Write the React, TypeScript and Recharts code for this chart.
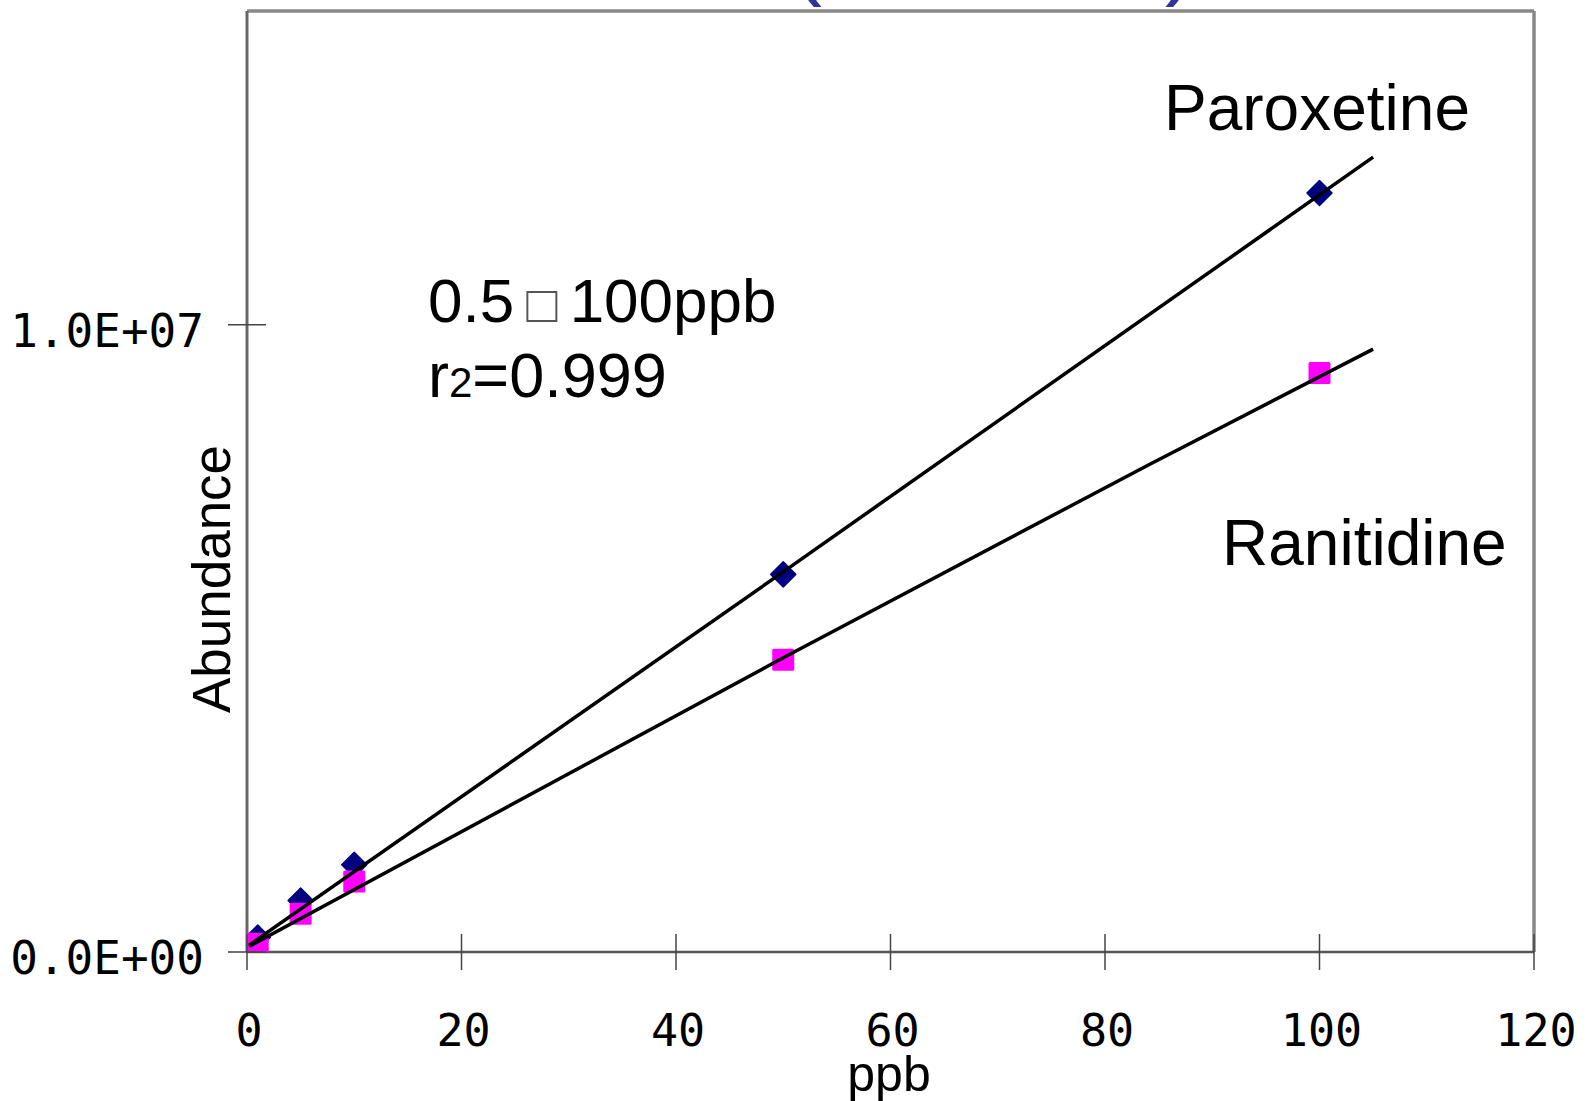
import React from 'react';
import { ComposedChart, Scatter, XAxis, YAxis, ReferenceLine, Customized } from 'recharts';

// ---- data ----
const xTicks = [0, 20, 40, 60, 80, 100, 120];
const yTicks = [0, 10000000];
const yTickLabels = ['0.0E+00', '1.0E+07'];

const concentrations = [0.5, 1, 5, 10, 50, 100];
const paroxetine = [120000, 230000, 820000, 1390000, 6020000, 12100000];
const ranitidine = [96000, 130000, 610000, 1125000, 4660000, 9230000];

const paroxetineFitX = [0.2, 50, 105];
const paroxetineFitY = [110000, 6060000, 12670000];
const ranitidineFitX = [0.2, 50, 84, 105];
const ranitidineFitY = [90000, 4690000, 7760000, 9610000];

const seriesNames = ['Paroxetine', 'Ranitidine'];
const rangeParts = ['0.5', '\u25A1', '100ppb'];
const xLabel = 'ppb';
const yLabel = 'Abundance';

const parData = concentrations.map((x, i) => ({ x, y: paroxetine[i] }));
const ranData = concentrations.map((x, i) => ({ x, y: ranitidine[i] }));
const parFit = paroxetineFitX.map((x, i) => ({ x, y: paroxetineFitY[i] }));
const ranFit = ranitidineFitX.map((x, i) => ({ x, y: ranitidineFitY[i] }));

const SANS = '"Liberation Sans", Arial, sans-serif';
const MONO = '"DejaVu Sans Mono", monospace';

const Diamond = (props: any) => {
  const { cx, cy } = props;
  const r = 12.5;
  return (
    <polygon
      points={`${cx},${cy - r} ${cx + r},${cy} ${cx},${cy + r} ${cx - r},${cy}`}
      fill="#000080"
      stroke="#000080"
      strokeWidth={1.5}
      strokeLinejoin="round"
    />
  );
};

const Square = (props: any) => {
  const { cx, cy } = props;
  const s = 22;
  return <rect x={cx - s / 2} y={cy - s / 2} width={s} height={s} rx={1.5} fill="#FF00FF" />;
};

const NoShape = () => <g />;

const YTick = (props: any) => {
  const { x, y, payload } = props;
  const idx = yTicks.indexOf(payload.value);
  return (
    <g>
      <line x1={x - 19} x2={x + 19} y1={y} y2={y} stroke="#444" strokeWidth={1.5} />
      <text x={x - 43} y={y + 22} textAnchor="end" fontFamily={MONO} fontSize={46} fill="#000">
        {yTickLabels[idx]}
      </text>
    </g>
  );
};

const XTick = (props: any) => {
  const { x, y, payload } = props;
  return (
    <g>
      <line x1={x} x2={x} y1={y - 18} y2={y + 18} stroke="#444" strokeWidth={1.5} />
      <text x={x + 2} y={y + 94} textAnchor="middle" fontFamily={MONO} fontSize={45} fill="#000">
        {String(payload.value)}
      </text>
    </g>
  );
};

const Annotations = () => (
  <g>
    <text x={807} y={-12} fontFamily={SANS} fontSize={90} fill="#333399" textAnchor="middle">(</text>
    <text x={1180} y={-12} fontFamily={SANS} fontSize={90} fill="#333399" textAnchor="middle">)</text>
    <text x={1164} y={130} fontFamily={SANS} fontSize={64} fill="#000">{seriesNames[0]}</text>
    <text x={1222} y={565} fontFamily={SANS} fontSize={64} fill="#000">{seriesNames[1]}</text>
    <text x={428} y={322} fontFamily={SANS} fontSize={62} fill="#000">
      {rangeParts[0]}
      <tspan dx={12} fontSize={52} fill="#555">{rangeParts[1]}</tspan>
      <tspan dx={12}>{rangeParts[2]}</tspan>
    </text>
    <text x={428} y={397} fontFamily={SANS} fontSize={63} fill="#000">
      r<tspan fontSize={42}>2</tspan>=0.999
    </text>
    <text x={889} y={1091} fontFamily={SANS} fontSize={50} fill="#000" textAnchor="middle">{xLabel}</text>
    <text
      x={230}
      y={579}
      fontFamily={SANS}
      fontSize={53}
      fill="#000"
      textAnchor="middle"
      transform="rotate(-90 230 579)"
    >
      {yLabel}
    </text>
  </g>
);

export default function App() {
  return (
    <div style={{ position: 'absolute', left: 0, top: 0, width: 1587, height: 1101, background: '#fff' }}>
      <ComposedChart
        width={1587}
        height={1101}
        margin={{ top: 11, right: 53, bottom: 0, left: 0 }}
        style={{ overflow: 'visible' }}
      >
        <XAxis
          type="number"
          dataKey="x"
          domain={[0, 120]}
          ticks={xTicks}
          interval={0}
          height={149}
          tickSize={0}
          tickMargin={0}
          tickLine={false}
          axisLine={{ stroke: '#555', strokeWidth: 2.5 }}
          tick={<XTick />}
          allowDataOverflow
        />
        <YAxis
          type="number"
          dataKey="y"
          domain={[0, 15000000]}
          ticks={yTicks}
          interval={0}
          width={247}
          tickSize={0}
          tickMargin={0}
          tickLine={false}
          axisLine={{ stroke: '#666', strokeWidth: 3 }}
          tick={<YTick />}
          allowDataOverflow
        />
        <ReferenceLine y={15000000} stroke="#888" strokeWidth={3.5} ifOverflow="visible" />
        <ReferenceLine x={120} stroke="#888" strokeWidth={3.5} ifOverflow="visible" />
        <Scatter name="Paroxetine" data={parData} shape={<Diamond />} isAnimationActive={false} />
        <Scatter name="Ranitidine" data={ranData} shape={<Square />} isAnimationActive={false} />
        <Scatter
          name="Paroxetine fit"
          data={parFit}
          line={{ stroke: '#000', strokeWidth: 3.5 }}
          lineType="joint"
          shape={<NoShape />}
          isAnimationActive={false}
        />
        <Scatter
          name="Ranitidine fit"
          data={ranFit}
          line={{ stroke: '#000', strokeWidth: 3.5 }}
          lineType="joint"
          shape={<NoShape />}
          isAnimationActive={false}
        />
        <Customized component={Annotations} />
      </ComposedChart>
    </div>
  );
}
